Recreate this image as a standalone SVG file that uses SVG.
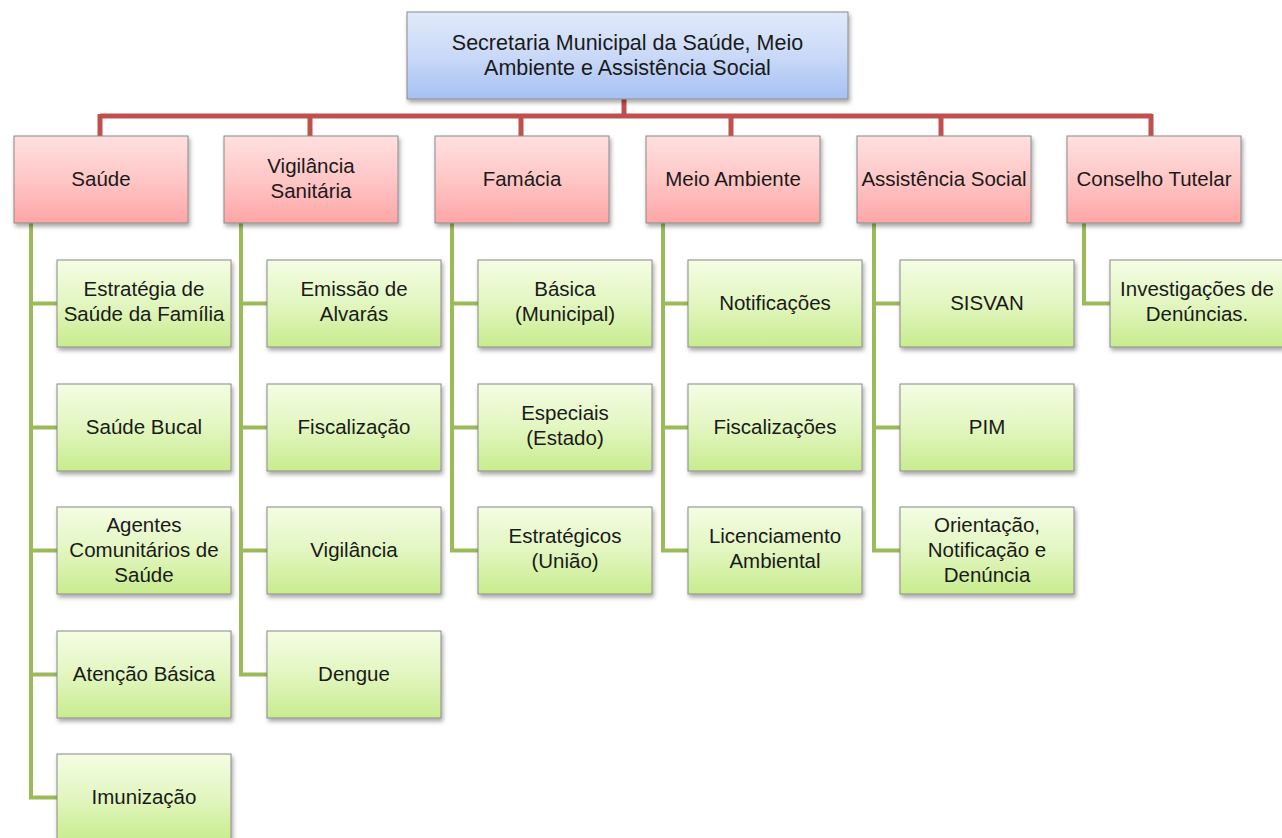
<svg xmlns="http://www.w3.org/2000/svg" width="1282" height="838" viewBox="0 0 1282 838">
<defs>
<linearGradient id="gb" x1="0" y1="0" x2="0" y2="1"><stop offset="0" stop-color="#e0eafb"/><stop offset="0.5" stop-color="#cad9f7"/><stop offset="1" stop-color="#a5c1f3"/></linearGradient>
<linearGradient id="gr" x1="0" y1="0" x2="0" y2="1"><stop offset="0" stop-color="#ffe0e0"/><stop offset="0.5" stop-color="#ffc6c6"/><stop offset="1" stop-color="#ffa6a6"/></linearGradient>
<linearGradient id="gg" x1="0" y1="0" x2="0" y2="1"><stop offset="0" stop-color="#f4fde4"/><stop offset="0.5" stop-color="#e2f6c0"/><stop offset="1" stop-color="#c8ec8e"/></linearGradient>
<filter id="sh" x="-10%" y="-10%" width="125%" height="135%"><feDropShadow dx="1.5" dy="3" stdDeviation="2" flood-color="#000" flood-opacity="0.35"/></filter>
</defs>
<style>
rect{stroke:#8a8a8a;stroke-width:1;filter:url(#sh)}
.top rect{fill:url(#gb)}
.l1 rect{fill:url(#gr)}
.l2 rect{fill:url(#gg)}
text{font-family:"Liberation Sans",Arial,sans-serif;font-size:20.5px;fill:#1a1a1a;text-anchor:middle}
.top text{font-size:21.5px}
.red{stroke:#c0504d;stroke-width:5;fill:none}
.grn{stroke:#9bbb59;stroke-width:4;fill:none}
</style>
<rect width="1282" height="838" fill="#fff" style="stroke:none;filter:none"/>
<g id="connectors">
<path class="red" d="M624,99V116M100,116H1152M100,114V136M310,114V136M521,114V136M731,114V136M941,114V136M1151,114V136"/>
<path class="grn" d="M31,223V797.5M29,303.5H57M29,427.5H57M29,550.5H57M29,674.5H57M29,797.5H57"/>
<path class="grn" d="M241,223V674.5M239,303.5H267M239,427.5H267M239,550.5H267M239,674.5H267"/>
<path class="grn" d="M452,223V550.5M450,303.5H478M450,427.5H478M450,550.5H478"/>
<path class="grn" d="M663,223V550.5M661,303.5H688M661,427.5H688M661,550.5H688"/>
<path class="grn" d="M874,223V550.5M872,303.5H900M872,427.5H900M872,550.5H900"/>
<path class="grn" d="M1084,223V303.5M1082,303.5H1110"/>
</g>
<g id="n0" class="top"><rect x="407" y="12" width="441" height="87"/><text x="627.5" y="50">Secretaria Municipal da Saúde, Meio</text><text x="627.5" y="75">Ambiente e Assistência Social</text></g>
<g id="n1" class="l1"><rect x="14" y="136" width="174" height="87"/><text x="101" y="186">Saúde</text></g>
<g id="n2" class="l1"><rect x="224" y="136" width="174" height="87"/><text x="311" y="173">Vigilância</text><text x="311" y="198">Sanitária</text></g>
<g id="n3" class="l1"><rect x="435" y="136" width="174" height="87"/><text x="522" y="186">Famácia</text></g>
<g id="n4" class="l1"><rect x="646" y="136" width="174" height="87"/><text x="733" y="186">Meio Ambiente</text></g>
<g id="n5" class="l1"><rect x="857" y="136" width="174" height="87"/><text x="944" y="186">Assistência Social</text></g>
<g id="n6" class="l1"><rect x="1067" y="136" width="174" height="87"/><text x="1154" y="186">Conselho Tutelar</text></g>
<g id="s1" class="l2"><rect x="57" y="260" width="174" height="87"/><text x="144" y="296">Estratégia de</text><text x="144" y="321">Saúde da Família</text></g>
<g id="s2" class="l2"><rect x="57" y="384" width="174" height="87"/><text x="144" y="434">Saúde Bucal</text></g>
<g id="s3" class="l2"><rect x="57" y="507" width="174" height="87"/><text x="144" y="532">Agentes</text><text x="144" y="557">Comunitários de</text><text x="144" y="582">Saúde</text></g>
<g id="s4" class="l2"><rect x="57" y="631" width="174" height="87"/><text x="144" y="681">Atenção Básica</text></g>
<g id="s5" class="l2"><rect x="57" y="754" width="174" height="87"/><text x="144" y="804">Imunização</text></g>
<g id="v1" class="l2"><rect x="267" y="260" width="174" height="87"/><text x="354" y="296">Emissão de</text><text x="354" y="321">Alvarás</text></g>
<g id="v2" class="l2"><rect x="267" y="384" width="174" height="87"/><text x="354" y="434">Fiscalização</text></g>
<g id="v3" class="l2"><rect x="267" y="507" width="174" height="87"/><text x="354" y="557">Vigilância</text></g>
<g id="v4" class="l2"><rect x="267" y="631" width="174" height="87"/><text x="354" y="681">Dengue</text></g>
<g id="f1" class="l2"><rect x="478" y="260" width="174" height="87"/><text x="565" y="296">Básica</text><text x="565" y="321">(Municipal)</text></g>
<g id="f2" class="l2"><rect x="478" y="384" width="174" height="87"/><text x="565" y="420">Especiais</text><text x="565" y="445">(Estado)</text></g>
<g id="f3" class="l2"><rect x="478" y="507" width="174" height="87"/><text x="565" y="543">Estratégicos</text><text x="565" y="568">(União)</text></g>
<g id="m1" class="l2"><rect x="688" y="260" width="174" height="87"/><text x="775" y="310">Notificações</text></g>
<g id="m2" class="l2"><rect x="688" y="384" width="174" height="87"/><text x="775" y="434">Fiscalizações</text></g>
<g id="m3" class="l2"><rect x="688" y="507" width="174" height="87"/><text x="775" y="543">Licenciamento</text><text x="775" y="568">Ambiental</text></g>
<g id="a1" class="l2"><rect x="900" y="260" width="174" height="87"/><text x="987" y="310">SISVAN</text></g>
<g id="a2" class="l2"><rect x="900" y="384" width="174" height="87"/><text x="987" y="434">PIM</text></g>
<g id="a3" class="l2"><rect x="900" y="507" width="174" height="87"/><text x="987" y="532">Orientação,</text><text x="987" y="557">Notificação e</text><text x="987" y="582">Denúncia</text></g>
<g id="c1" class="l2"><rect x="1110" y="260" width="174" height="87"/><text x="1197" y="296">Investigações de</text><text x="1197" y="321">Denúncias.</text></g>
</svg>
